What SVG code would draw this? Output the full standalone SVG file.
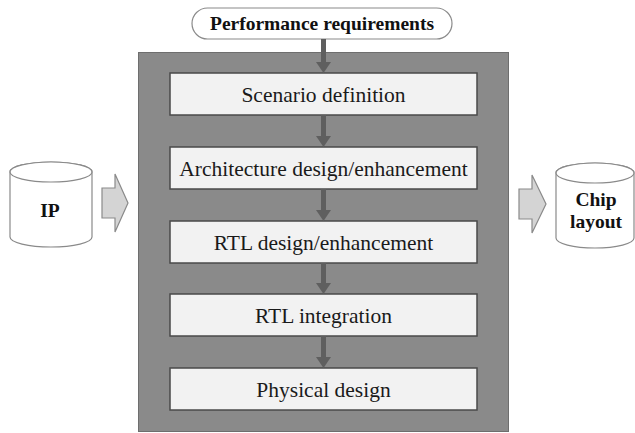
<svg xmlns="http://www.w3.org/2000/svg" width="635" height="433" viewBox="0 0 635 433">
  <style>
    text { font-family: 'Liberation Serif', 'Times New Roman', Times, 'DejaVu Serif', serif; text-anchor: middle; }
    .panel { fill: #8a8a8a; stroke: #6e6e6e; stroke-width: 1; }
    .step { fill: #f2f2f2; stroke: #4a4a4a; stroke-width: 1.5; }
    .step-text { font-size: 21.5px; fill: #1a1a1a; }
    .bold-text { font-size: 19.5px; font-weight: bold; fill: #111; }
    .outline { fill: #ffffff; stroke: #8a8a8a; stroke-width: 1.2; }
    .flow { stroke: #5f5f5f; stroke-width: 5; fill: none; }
    .head { fill: #5f5f5f; }
    .block-arrow { fill: #d4d4d4; stroke: #8a8a8a; stroke-width: 1.2; }
  </style>

  <!-- design flow panel -->
  <rect id="panel" class="panel" x="138.5" y="52.5" width="370" height="379"/>

  <g id="performance-requirements">
    <rect class="outline" x="192" y="8" width="260" height="31" rx="15.5" ry="15.5"/>
    <text class="bold-text" x="322" y="30" font-family="Liberation Serif, serif">Performance requirements</text>
  </g>

  <g id="scenario-definition">
    <rect class="step" x="170" y="73" width="307" height="42"/>
    <text class="step-text" x="323.5" y="101.5" font-family="Liberation Serif, serif">Scenario definition</text>
  </g>

  <g id="architecture-design">
    <rect class="step" x="170" y="147" width="307" height="42"/>
    <text class="step-text" x="323.5" y="175.5" font-family="Liberation Serif, serif">Architecture design/enhancement</text>
  </g>

  <g id="rtl-design">
    <rect class="step" x="170" y="221" width="307" height="42"/>
    <text class="step-text" x="323.5" y="249.5" font-family="Liberation Serif, serif">RTL design/enhancement</text>
  </g>

  <g id="rtl-integration">
    <rect class="step" x="170" y="294" width="307" height="42"/>
    <text class="step-text" x="323.5" y="322.5" font-family="Liberation Serif, serif">RTL integration</text>
  </g>

  <g id="physical-design">
    <rect class="step" x="170" y="368" width="307" height="42"/>
    <text class="step-text" x="323.5" y="396.5" font-family="Liberation Serif, serif">Physical design</text>
  </g>

  <g id="ip">
    <path class="outline" d="M10,172 L10,237 A41,10 0 0 0 92,237 L92,172 A41,10 0 0 0 10,172 Z"/>
    <ellipse class="outline" cx="51" cy="172" rx="41" ry="10"/>
    <text class="bold-text" x="50" y="217" font-family="Liberation Serif, serif">IP</text>
  </g>

  <g id="chip-layout">
    <path class="outline" d="M556,173 L556,238 A39,10 0 0 0 634,238 L634,173 A39,10 0 0 0 556,173 Z"/>
    <ellipse class="outline" cx="595" cy="173" rx="39" ry="10"/>
    <text class="bold-text" x="596" y="206" font-family="Liberation Serif, serif">Chip</text>
    <text class="bold-text" x="596" y="228" font-family="Liberation Serif, serif">layout</text>
  </g>

  <g id="connectors">
    <!-- vertical flow arrows -->
    <line class="flow" x1="323.5" y1="39" x2="323.5" y2="63"/>
    <polygon class="head" points="316,62 331,62 323.5,73"/>
    <line class="flow" x1="323.5" y1="115" x2="323.5" y2="137"/>
    <polygon class="head" points="316,136 331,136 323.5,147"/>
    <line class="flow" x1="323.5" y1="189" x2="323.5" y2="211"/>
    <polygon class="head" points="316,210 331,210 323.5,221"/>
    <line class="flow" x1="323.5" y1="263" x2="323.5" y2="284"/>
    <polygon class="head" points="316,283 331,283 323.5,294"/>
    <line class="flow" x1="323.5" y1="336" x2="323.5" y2="358"/>
    <polygon class="head" points="316,357 331,357 323.5,368"/>

    <!-- block arrows in and out of the flow -->
    <polygon class="block-arrow" points="102,188 115,188 115,174 128,203 115,232 115,218 102,218"/>
    <polygon class="block-arrow" points="519,189 532,189 532,175 546,204 532,233 532,219 519,219"/>
  </g>
</svg>
